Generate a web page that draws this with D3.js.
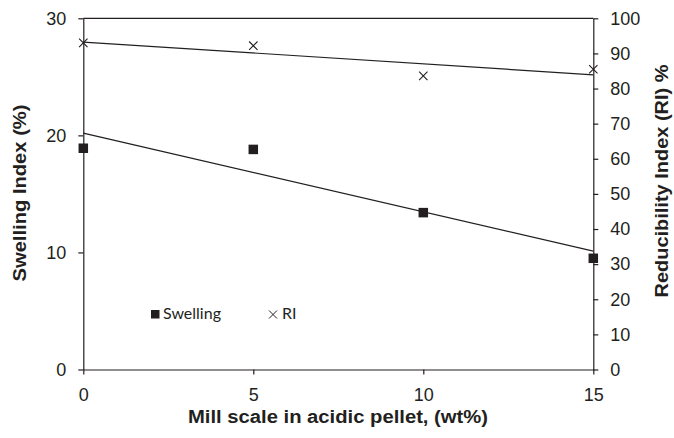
<!DOCTYPE html>
<html><head><meta charset="utf-8">
<script src="https://cdn.jsdelivr.net/npm/d3@7"></script>
<style>body{margin:0;background:#fff}svg{display:block}</style>
</head><body>
<script>
const millScale = [0, 5, 10, 15];
const swelling = [18.9, 18.8, 13.4, 9.5];
const ri = [93.0, 92.2, 83.6, 85.5];
const xTicks = [0, 5, 10, 15];
const leftTicks = [0, 10, 20, 30];
const rightTicks = [0, 10, 20, 30, 40, 50, 60, 70, 80, 90, 100];

const W = 674, H = 438;
const m = {l: 83.3, r: 674 - 593.3, t: 18.3, b: 438 - 369.5};
const svg = d3.select("body").append("svg").attr("width", W).attr("height", H);
const x = d3.scaleLinear().domain([0, 15]).range([m.l, W - m.r]);
const yL = d3.scaleLinear().domain([0, 30]).range([H - m.b, m.t]);
const yR = d3.scaleLinear().domain([0, 100]).range([H - m.b, m.t]);
const ink = "#231f20";
const tickFont = "'Liberation Sans', Arial, sans-serif";

function fit(xs, ys) {
  const n = xs.length, mx = d3.mean(xs), my = d3.mean(ys);
  let sxy = 0, sxx = 0;
  for (let i = 0; i < n; i++) { sxy += (xs[i]-mx)*(ys[i]-my); sxx += (xs[i]-mx)**2; }
  const b = sxy / sxx; return {a: my - b*mx, b};
}

// top border
svg.append("line").attr("x1", x(0)).attr("x2", x(15)).attr("y1", yL(30)).attr("y2", yL(30))
  .attr("stroke", ink).attr("stroke-width", 1.2);

function styleAxis(g) {
  g.selectAll("path").attr("stroke", ink).attr("stroke-width", 1.2);
  g.selectAll("line").attr("stroke", ink).attr("stroke-width", 1.2);
  g.selectAll("text").attr("fill", ink).style("font-family", tickFont).style("font-size", "18px");
}
const gx = svg.append("g").attr("transform", `translate(0,${yL(0)})`)
  .call(d3.axisBottom(x).tickValues(xTicks).tickSize(5).tickSizeOuter(0).tickPadding(14));
styleAxis(gx);
const gl = svg.append("g").attr("transform", `translate(${x(0)},0)`)
  .call(d3.axisLeft(yL).tickValues(leftTicks).tickSize(5).tickSizeOuter(0).tickPadding(12));
styleAxis(gl);
const gr = svg.append("g").attr("transform", `translate(${x(15)},0)`)
  .call(d3.axisRight(yR).tickValues(rightTicks).tickSize(5).tickSizeOuter(0).tickPadding(12));
styleAxis(gr);

// trend lines
const fs = fit(millScale, swelling), fr = fit(millScale, ri);
svg.append("line").attr("x1", x(0)).attr("x2", x(15))
  .attr("y1", yL(fs.a)).attr("y2", yL(fs.a + fs.b*15)).attr("stroke", ink).attr("stroke-width", 1.2);
svg.append("line").attr("x1", x(0)).attr("x2", x(15))
  .attr("y1", yR(fr.a)).attr("y2", yR(fr.a + fr.b*15)).attr("stroke", ink).attr("stroke-width", 1.2);

// markers
const sq = 9.5;
svg.selectAll("rect.sw").data(millScale).join("rect").attr("class", "sw")
  .attr("x", (d) => x(d) - sq/2).attr("y", (d, i) => yL(swelling[i]) - sq/2)
  .attr("width", sq).attr("height", sq).attr("fill", ink);
const cs = 4.2;
const cross = (cx, cy, s) => `M${cx-s},${cy-s}L${cx+s},${cy+s}M${cx-s},${cy+s}L${cx+s},${cy-s}`;
svg.selectAll("path.ri").data(millScale).join("path").attr("class", "ri")
  .attr("d", (d, i) => cross(x(d), yR(ri[i]), cs)).attr("stroke", ink).attr("stroke-width", 1.1).attr("fill", "none");

// legend
const legFont = "Lato, 'Open Sans', sans-serif";
svg.append("rect").attr("x", 151).attr("y", 310).attr("width", 8.5).attr("height", 8.5).attr("fill", ink);
svg.append("text").attr("x", 163).attr("y", 319).text("Swelling")
  .attr("fill", ink).style("font-family", legFont).style("font-size", "16px");
svg.append("path").attr("d", cross(273, 314.5, 4)).attr("stroke", ink).attr("stroke-width", 1).attr("fill", "none");
svg.append("text").attr("x", 282).attr("y", 319).text("RI")
  .attr("fill", ink).style("font-family", legFont).style("font-size", "16px");

// titles
const titleStyle = (t) => t.attr("fill", ink).style("font-family", tickFont).style("font-weight", "bold").style("font-size", "17.5px").attr("text-anchor", "middle");
svg.append("text").attr("x", 338).attr("y", 423).text("Mill scale in acidic pellet, (wt%)").call(titleStyle)
  .attr("textLength", 300).attr("lengthAdjust", "spacingAndGlyphs");
svg.append("text").attr("transform", "translate(26,193) rotate(-90)").text("Swelling Index (%)").call(titleStyle)
  .attr("textLength", 177).attr("lengthAdjust", "spacingAndGlyphs");
svg.append("text").attr("transform", "translate(668,181) rotate(-90)").text("Reducibility Index (RI) %").call(titleStyle)
  .attr("textLength", 233).attr("lengthAdjust", "spacingAndGlyphs");
</script>
</body></html>
